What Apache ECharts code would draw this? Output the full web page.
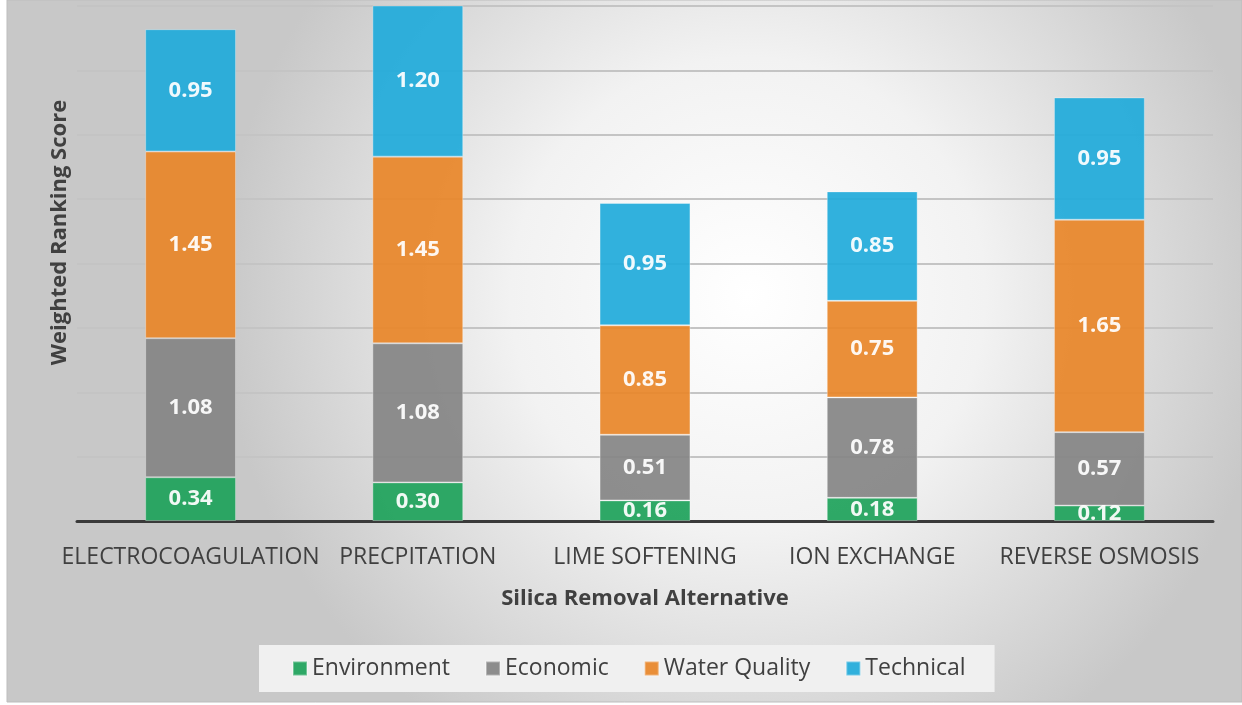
<!DOCTYPE html>
<html>
<head>
<meta charset="utf-8">
<script src="https://cdn.jsdelivr.net/npm/echarts@6/dist/echarts.min.js"></script>
<style>html,body{margin:0;padding:0;background:#fff;}#c{width:1242px;height:705px;}</style>
</head>
<body>
<div id="c"></div>
<script>
const categories = ['ELECTROCOAGULATION', 'PRECPITATION', 'LIME SOFTENING', 'ION EXCHANGE', 'REVERSE OSMOSIS'];
const environment = [0.34, 0.30, 0.16, 0.18, 0.12];
const economic = [1.08, 1.08, 0.51, 0.78, 0.57];
const waterQuality = [1.45, 1.45, 0.85, 0.75, 1.65];
const technical = [0.95, 1.20, 0.95, 0.85, 0.95];
const seriesNames = ['Environment', 'Economic', 'Water Quality', 'Technical'];
const seriesColors = ['#1fa35b', '#858585', '#e8862a', '#21abda'];
const yMin = 0, yMax = 4, yInterval = 0.5;

const FONT = '"Open Sans", "Liberation Sans", sans-serif';
const chart = echarts.init(document.getElementById('c'));
const dataSets = [environment, economic, waterQuality, technical];

const series = dataSets.map((d, i) => ({
  name: seriesNames[i],
  type: 'bar',
  stack: 'total',
  barWidth: '40%',
  data: d,
  itemStyle: { color: seriesColors[i], opacity: 0.93, borderColor: 'rgba(255,255,255,0.35)', borderWidth: 1 },
  label: {
    show: true,
    position: 'inside',
    color: '#ffffff',
    fontFamily: FONT,
    fontWeight: 'bold',
    fontSize: 22,
    formatter: p => p.value.toFixed(2)
  },
  z: 3
}));

chart.setOption({
  animation: false,
  backgroundColor: '#ffffff',
  graphic: [{
    type: 'rect',
    z: -10,
    silent: true,
    shape: { x: 7, y: 0, width: 1235, height: 702 },
    style: {
      fill: {
        type: 'radial', x: 0.6, y: 0.42, r: 0.75,
        colorStops: [{ offset: 0, color: '#ffffff' }, { offset: 0.45, color: '#f2f2f2' }, { offset: 1, color: '#c8c8c8' }]
      },
      stroke: '#bdbdbd', lineWidth: 1
    }
  }],
  grid: { left: 77, right: 29, top: 6, bottom: 184 },
  legend: {
    data: seriesNames,
    left: 259,
    top: 645,
    backgroundColor: '#f0f0f0',
    padding: [12, 29, 12, 33],
    itemWidth: 14,
    itemHeight: 14,
    itemGap: 35,
    icon: 'rect',
    textStyle: { fontFamily: FONT, fontSize: 23, color: '#404040' }
  },
  xAxis: {
    type: 'category',
    data: categories,
    name: 'Silica Removal Alternative',
    nameLocation: 'middle',
    nameGap: 67,
    nameTextStyle: { fontFamily: FONT, fontSize: 22, fontWeight: 'bold', color: '#404040' },
    axisLine: { show: true, lineStyle: { color: '#3a3a3a', width: 3 } },
    axisTick: { show: false },
    axisLabel: { fontFamily: FONT, fontSize: 23, color: '#404040', margin: 25, interval: 0 }
  },
  yAxis: {
    type: 'value',
    min: yMin,
    max: yMax,
    interval: yInterval,
    name: 'Weighted Ranking Score',
    nameLocation: 'middle',
    nameGap: 6,
    nameTextStyle: { fontFamily: FONT, fontSize: 22, fontWeight: 'bold', color: '#404040', padding: [0, 0, 0, 62] },
    axisLabel: { show: false },
    axisLine: { show: false },
    axisTick: { show: false },
    splitLine: { show: true, lineStyle: { color: '#c4c4c4', width: 2 } }
  },
  series: series
});
</script>
</body>
</html>
